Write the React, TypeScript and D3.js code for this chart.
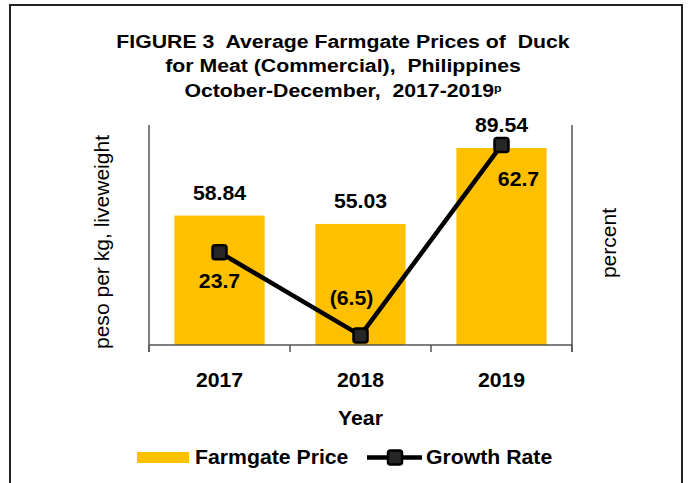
import React from "react";
import * as d3 from "d3";

const years = ["2017", "2018", "2019"];
const prices = [58.84, 55.03, 89.54];
const growth = [23.7, -6.5, 62.7];
const growthLabels = ["23.7", "(6.5)", "62.7"];
const titleLines = [
  "FIGURE 3  Average Farmgate Prices of  Duck",
  "for Meat (Commercial),  Philippines",
  "October-December,  2017-2019",
];

const W = 689;
const H = 483;
const M = { left: 149, right: 572, top: 125, bottom: 345 };
const FONT = "'Liberation Sans', Arial, sans-serif";
const SX = 1.09;

function T({ x, y, rotate = 0, sx = SX, size = 19.5, bold = true, anchor = "middle", children }: any) {
  return (
    <text
      transform={`translate(${x},${y}) rotate(${rotate}) scale(${sx},1)`}
      textAnchor={anchor}
      fontWeight={bold ? "bold" : "normal"}
      fontSize={size}
      fill="#000"
      xmlSpace="preserve"
      style={{ whiteSpace: "pre" }}
    >
      {children}
    </text>
  );
}

export default function App() {
  const x = d3.scaleBand<string>().domain(years).range([M.left, M.right]).paddingInner(0.36).paddingOuter(0.18);
  const yL = d3.scaleLinear().domain([0, 100]).range([M.bottom, M.top]);
  const yR = d3.scaleLinear().domain([-10, 70]).range([M.bottom, M.top]);
  const step = (M.right - M.left) / years.length;
  const cx = (i: number) => M.left + step * (i + 0.5);
  const line = d3
    .line<number>()
    .x((_, i) => cx(i))
    .y((d) => yR(d));
  const ticks = d3.range(years.length + 1).map((i) => M.left + step * i);
  const growthOffsets = [
    { dx: 0, dy: 36 },
    { dx: -9, dy: -30 },
    { dx: 17, dy: 41 },
  ];
  const ms = 14;
  const titleY = [48, 72, 97];

  return (
    <svg width={W} height={H} style={{ position: "absolute", left: 0, top: 0 }} fontFamily={FONT}>
      <rect x={0} y={0} width={W} height={H} fill="#fff" />
      <path d={`M10,${H} V5 H682 V${H}`} fill="none" stroke="#222" strokeWidth={2} />
      {titleLines.map((t, i) => (
        <T key={i} x={343} y={titleY[i]} size={19} sx={1.12}>
          {t}
          {i === 2 ? (
            <tspan fontSize={11} dy={-5}>p</tspan>
          ) : null}
        </T>
      ))}

      {years.map((yr, i) => (
        <rect key={yr} x={x(yr)} y={yL(prices[i])} width={x.bandwidth()} height={M.bottom - yL(prices[i])} fill="#FFC000" />
      ))}

      {/* axes */}
      <line x1={M.left} x2={M.left} y1={M.top} y2={M.bottom + 7} stroke="#555" strokeWidth={1.5} />
      <line x1={M.right} x2={M.right} y1={M.top} y2={M.bottom + 7} stroke="#555" strokeWidth={1.5} />
      <line x1={M.left} x2={M.right} y1={M.bottom} y2={M.bottom} stroke="#555" strokeWidth={1.5} />
      {ticks.map((t, i) => (
        <line key={i} x1={t} x2={t} y1={M.bottom} y2={M.bottom + 7} stroke="#555" strokeWidth={1.5} />
      ))}

      {years.map((yr, i) => (
        <T key={yr} x={cx(i)} y={387}>
          {yr}
        </T>
      ))}
      <T x={cx(1)} y={425}>
        Year
      </T>

      {prices.map((p, i) => (
        <T key={i} x={cx(i)} y={yL(p) - 16}>
          {p.toFixed(2)}
        </T>
      ))}

      <path d={line(growth) || ""} fill="none" stroke="#000" strokeWidth={4.5} strokeLinejoin="round" />
      {growth.map((g, i) => (
        <rect key={i} x={cx(i) - ms / 2} y={yR(g) - ms / 2} width={ms} height={ms} rx={2.5} fill="#262626" stroke="#000" strokeWidth={2.5} />
      ))}
      {growth.map((g, i) => (
        <T key={i} x={cx(i) + growthOffsets[i].dx} y={yR(g) + growthOffsets[i].dy}>
          {growthLabels[i]}
        </T>
      ))}

      <T x={109} y={242} rotate={-90} bold={false} sx={1.08}>
        peso per kg, liveweight
      </T>
      <T x={616} y={243} rotate={-90} bold={false} sx={1.08}>
        percent
      </T>

      {/* legend */}
      <rect x={137} y={452} width={52} height={11} fill="#FFC000" />
      <T x={195} y={464} anchor="start">
        Farmgate Price
      </T>
      <line x1={367} x2={422} y1={457.5} y2={457.5} stroke="#000" strokeWidth={4.5} />
      <rect x={395 - ms / 2} y={457.5 - ms / 2} width={ms} height={ms} rx={2.5} fill="#262626" stroke="#000" strokeWidth={2.5} />
      <T x={426} y={464} anchor="start">
        Growth Rate
      </T>
    </svg>
  );
}
